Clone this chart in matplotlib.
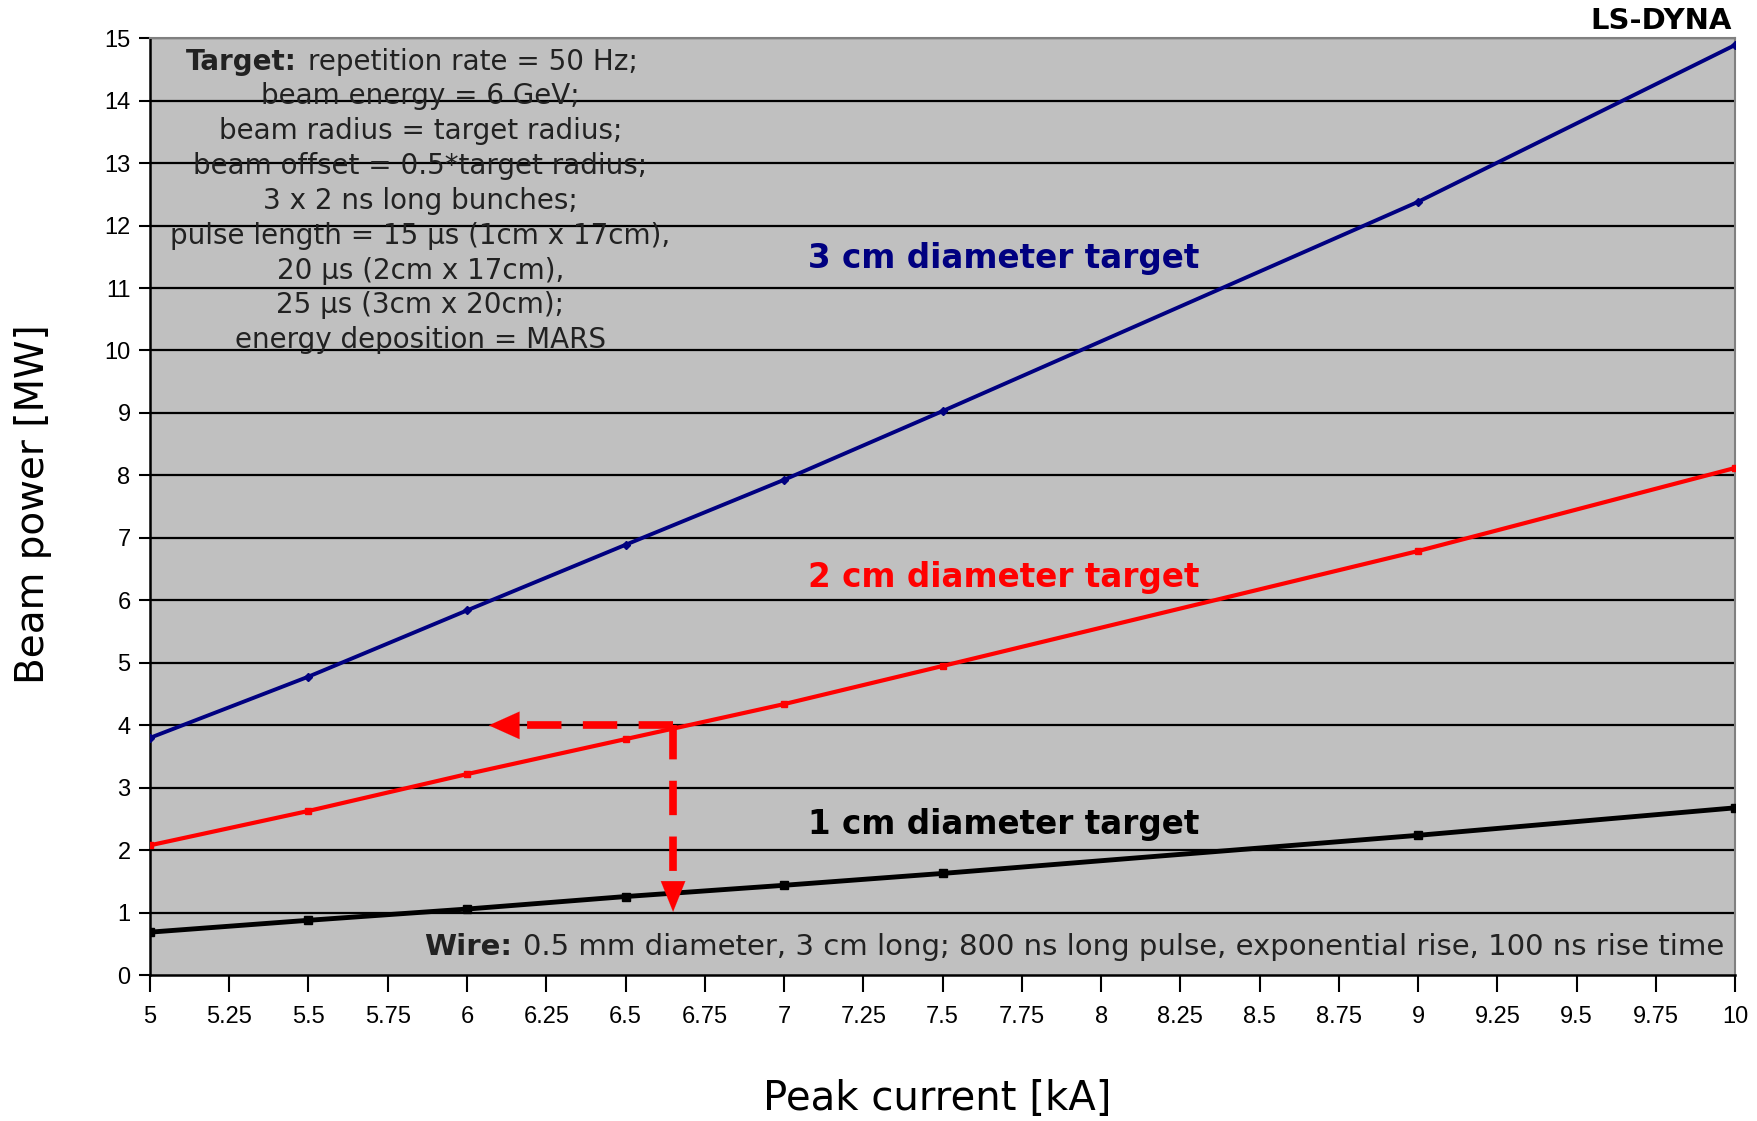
import matplotlib
matplotlib.use("Agg")
import matplotlib.pyplot as plt
import numpy as np

# ---- data ----
current_kA = [5, 5.5, 6, 6.5, 7, 7.5, 9, 10]
power_3cm = [3.80, 4.78, 5.84, 6.89, 7.93, 9.03, 12.38, 14.89]
power_2cm = [2.08, 2.63, 3.22, 3.78, 4.34, 4.95, 6.79, 8.12]
power_1cm = [0.69, 0.88, 1.06, 1.26, 1.44, 1.63, 2.24, 2.68]

x_ticks = [5, 5.25, 5.5, 5.75, 6, 6.25, 6.5, 6.75, 7, 7.25, 7.5, 7.75, 8,
           8.25, 8.5, 8.75, 9, 9.25, 9.5, 9.75, 10]
x_tick_labels = ["5", "5.25", "5.5", "5.75", "6", "6.25", "6.5", "6.75", "7",
                 "7.25", "7.5", "7.75", "8", "8.25", "8.5", "8.75", "9",
                 "9.25", "9.5", "9.75", "10"]
y_ticks = list(range(0, 16))

target_lines = ["beam energy = 6 GeV;",
                "beam radius = target radius;",
                "beam offset = 0.5*target radius;",
                "3 x 2 ns long bunches;",
                "pulse length = 15 \u00b5s (1cm x 17cm),",
                "20 \u00b5s (2cm x 17cm),",
                "25 \u00b5s (3cm x 20cm);",
                "energy deposition = MARS"]

arrow_x = 6.65
arrow_y = 4.0

fig = plt.figure(figsize=(17.58, 11.21), dpi=100)
ax = fig.add_axes([0.0853, 0.130, 0.9017, 0.836])
ax.set_facecolor("#C0C0C0")

for yv in y_ticks[1:]:
    ax.axhline(yv, color="black", lw=1.6, zorder=1)

ax.plot(current_kA, power_1cm, color="black", lw=3.5, marker="s", ms=6, zorder=3)
ax.plot(current_kA, power_2cm, color="#FF0000", lw=3.0, marker="s", ms=5, zorder=3)
ax.plot(current_kA, power_3cm, color="#000080", lw=2.8, marker="D", ms=4, zorder=3)

ax.set_xlim(5, 10)
ax.set_ylim(0, 15)
ax.set_xticks(x_ticks)
ax.set_xticklabels(x_tick_labels)
ax.set_yticks(y_ticks)

tick_font = "Liberation Sans Narrow"
for lab in ax.get_xticklabels() + ax.get_yticklabels():
    lab.set_family([tick_font, "Liberation Sans", "DejaVu Sans"])
    lab.set_fontsize(17)
ax.tick_params(axis="x", direction="out", length=12, width=1.5, pad=10, colors="black")
ax.tick_params(axis="y", direction="out", length=8, width=1.5, pad=6, colors="black")

for s in ["left", "bottom"]:
    ax.spines[s].set_color("black")
    ax.spines[s].set_linewidth(1.8)
for s in ["top", "right"]:
    ax.spines[s].set_color("#808080")
    ax.spines[s].set_linewidth(1.5)

# dashed red arrows
ax.plot([arrow_x, 6.16], [arrow_y, arrow_y], color="#FF0000", lw=5.5, ls=(0, (4.5, 2.8)), zorder=4)
ax.plot([arrow_x, arrow_x], [arrow_y, 1.22], color="#FF0000", lw=5.5, ls=(0, (4.5, 2.8)), zorder=4)
ax.annotate("", xy=(6.06, arrow_y), xytext=(6.2, arrow_y),
            arrowprops=dict(arrowstyle="-|>,head_length=1.0,head_width=0.45",
                            mutation_scale=22, color="#FF0000", lw=0.1), zorder=5)
ax.annotate("", xy=(arrow_x, 0.97), xytext=(arrow_x, 1.3),
            arrowprops=dict(arrowstyle="-|>,head_length=1.0,head_width=0.4",
                            mutation_scale=22, color="#FF0000", lw=0.1), zorder=5)

fam = ["DejaVu Sans"]
txt_col = "#222222"
# Target text block
first = ax.text(5.499, 14.62, "repetition rate = 50 Hz;", ha="left", va="center",
                fontsize=20, color=txt_col, family=fam)
ax.annotate("Target:", xy=(0, 0.5), xycoords=first, xytext=(-8, 0),
            textcoords="offset points", ha="right", va="center",
            fontsize=20, fontweight="bold", color=txt_col, family=fam)
line_y = [14.07, 13.51, 12.95, 12.40, 11.84, 11.28, 10.73, 10.17]
for t, yv in zip(target_lines, line_y):
    ax.text(5.853, yv, t, ha="center", va="center", fontsize=20,
            color=txt_col, family=fam)

# Wire text
wire = ax.text(9.965, 0.45,
               "0.5 mm diameter, 3 cm long; 800 ns long pulse, exponential rise, 100 ns rise time",
               ha="right", va="center", fontsize=21, color=txt_col, family=fam)
ax.annotate("Wire:", xy=(0, 0.5), xycoords=wire, xytext=(-8, 0),
            textcoords="offset points", ha="right", va="center",
            fontsize=21, fontweight="bold", color=txt_col, family=fam)

# series labels
ax.text(7.693, 11.48, "3 cm diameter target", ha="center", va="center",
        fontsize=23.5, fontweight="bold", color="#000080", family=fam)
ax.text(7.693, 6.37, "2 cm diameter target", ha="center", va="center",
        fontsize=23.5, fontweight="bold", color="#FF0000", family=fam)
ax.text(7.693, 2.42, "1 cm diameter target", ha="center", va="center",
        fontsize=23.5, fontweight="bold", color="black", family=fam)

fig.text(0.985, 0.981, "LS-DYNA", ha="right", va="center", fontsize=21,
         fontweight="bold", color="black", family=fam)
fig.text(0.533, 0.020, "Peak current [kA]", ha="center", va="center",
         fontsize=29, color="black", family=fam)
fig.text(0.019, 0.55, "Beam power [MW]", ha="center", va="center",
         rotation=90, fontsize=28, color="black", family=fam)

fig.savefig("out.png", dpi=100)
